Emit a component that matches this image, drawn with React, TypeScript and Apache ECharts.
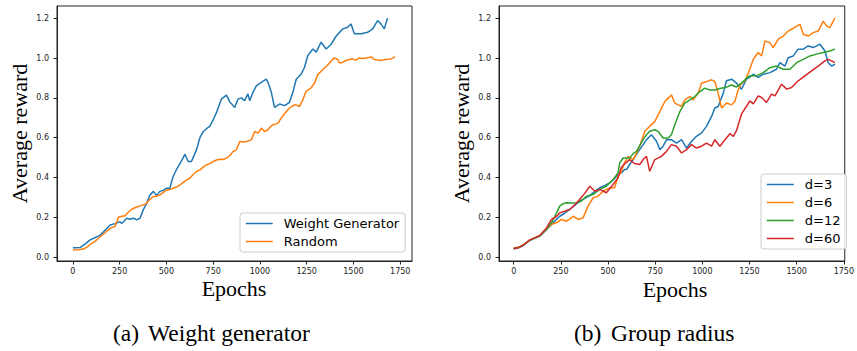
import React, { useEffect, useRef } from "react";
import * as echarts from "echarts";

// ---- tick labels ----
const xTickValues = [0, 250, 500, 750, 1000, 1250, 1500, 1750];
const yTickValues = [0, 0.2, 0.4, 0.6, 0.8, 1.0, 1.2];

// ---- (a) Weight generator ----
const wgEpochs = [0,20,40,65,92,120,146,172,199,226,252,261,288,305,324,341,359,376,394,412,420,430,447,465,483,501,519,528,536,554,572,590,599,616,634,661,679,697,714,732,750,768,794,821,839,865,883,901,918,936,945,963,981,1007,1034,1043,1061,1078,1105,1132,1158,1176,1194,1221,1238,1256,1283,1301,1327,1354,1381,1407,1443,1469,1487,1505,1541,1576,1603,1629,1647,1665,1682];
const wgValues = [0.047,0.047,0.048,0.065,0.086,0.098,0.11,0.135,0.161,0.168,0.178,0.168,0.195,0.19,0.195,0.187,0.195,0.237,0.27,0.312,0.32,0.33,0.31,0.33,0.335,0.346,0.346,0.38,0.405,0.44,0.47,0.5,0.517,0.48,0.48,0.54,0.6,0.63,0.645,0.657,0.69,0.727,0.794,0.814,0.78,0.752,0.794,0.8,0.786,0.82,0.786,0.828,0.861,0.878,0.894,0.878,0.828,0.752,0.769,0.761,0.778,0.828,0.894,0.92,0.953,1.013,1.046,1.03,1.08,1.046,1.07,1.11,1.147,1.155,1.172,1.122,1.122,1.13,1.147,1.189,1.172,1.147,1.2];

const rndEpochs = [0,30,57,75,92,120,146,172,199,226,243,262,279,297,314,337,359,376,394,412,430,447,465,483,501,519,536,554,572,590,608,625,643,661,679,697,714,732,750,768,786,803,821,839,856,874,892,910,928,954,972,990,1007,1025,1043,1056,1069,1082,1096,1114,1127,1141,1158,1172,1185,1200,1212,1229,1247,1260,1274,1292,1309,1327,1345,1360,1372,1385,1398,1416,1425,1440,1452,1465,1478,1496,1514,1532,1550,1567,1580,1594,1611,1630,1647,1660,1674,1688,1700,1723];
const rndValues = [0.035,0.037,0.04,0.05,0.063,0.08,0.102,0.122,0.144,0.155,0.2,0.205,0.207,0.225,0.24,0.25,0.257,0.262,0.27,0.29,0.304,0.305,0.312,0.325,0.337,0.34,0.346,0.352,0.363,0.375,0.388,0.396,0.415,0.43,0.438,0.452,0.463,0.47,0.48,0.488,0.492,0.49,0.497,0.51,0.53,0.539,0.581,0.578,0.581,0.589,0.631,0.623,0.648,0.631,0.64,0.655,0.665,0.668,0.673,0.699,0.715,0.732,0.749,0.758,0.765,0.762,0.757,0.79,0.833,0.842,0.85,0.875,0.917,0.934,0.95,0.963,0.976,0.99,1.001,0.993,0.976,0.978,0.984,0.99,0.993,0.995,0.99,1.001,0.998,1.001,1.003,1.006,0.993,0.99,0.988,0.991,0.993,0.994,0.996,1.006];

// ---- (b) Group radius ----
const d3Epochs = [0,25,50,85,110,138,173,200,244,270,297,323,350,376,403,430,456,483,509,530,553,571,588,598,615,633,650,668,686,704,730,757,775,792,810,836,863,890,916,943,969,996,1022,1049,1066,1084,1111,1128,1155,1181,1208,1234,1252,1270,1296,1323,1358,1393,1411,1438,1455,1482,1508,1535,1561,1588,1623,1650,1667,1685,1703];
const d3Values = [0.04,0.046,0.058,0.083,0.094,0.105,0.137,0.164,0.205,0.22,0.239,0.26,0.281,0.295,0.309,0.33,0.348,0.36,0.373,0.39,0.415,0.423,0.44,0.44,0.465,0.49,0.515,0.54,0.565,0.59,0.615,0.582,0.54,0.557,0.59,0.59,0.573,0.59,0.548,0.582,0.607,0.624,0.657,0.707,0.749,0.757,0.824,0.886,0.894,0.874,0.844,0.894,0.905,0.919,0.903,0.919,0.927,0.944,0.977,0.96,1.002,1.011,1.045,1.045,1.061,1.053,1.07,1.036,0.977,0.96,0.969];

const d6Epochs = [0,25,50,85,110,138,173,200,226,253,280,298,315,342,368,394,421,447,474,509,535,553,571,585,607,633,650,668,695,721,748,775,801,819,836,854,872,890,907,934,951,978,996,1022,1049,1066,1084,1102,1128,1155,1172,1190,1208,1226,1252,1270,1296,1314,1332,1358,1376,1402,1429,1455,1473,1500,1517,1535,1561,1588,1614,1641,1659,1676,1694,1703];
const d6Values = [0.045,0.05,0.06,0.085,0.095,0.107,0.14,0.165,0.172,0.189,0.18,0.192,0.205,0.189,0.197,0.256,0.298,0.306,0.331,0.348,0.348,0.406,0.43,0.47,0.506,0.49,0.52,0.557,0.632,0.657,0.682,0.732,0.782,0.799,0.815,0.774,0.765,0.757,0.79,0.807,0.79,0.824,0.874,0.882,0.891,0.882,0.824,0.749,0.774,0.765,0.782,0.841,0.874,0.886,0.944,0.994,1.028,1.011,1.086,1.078,1.053,1.095,1.111,1.136,1.145,1.161,1.17,1.12,1.111,1.128,1.136,1.186,1.161,1.153,1.186,1.203];

const d12Epochs = [0,25,50,85,110,138,173,200,218,244,262,280,307,333,358,385,420,456,491,527,553,562,580,615,633,651,668,686,704,721,748,765,792,819,836,854,881,907,934,960,987,1013,1040,1066,1093,1128,1154,1181,1208,1234,1252,1287,1323,1358,1393,1429,1464,1500,1535,1570,1606,1641,1676,1703];
const d12Values = [0.043,0.048,0.06,0.085,0.095,0.106,0.14,0.172,0.205,0.256,0.268,0.273,0.272,0.273,0.28,0.306,0.314,0.34,0.356,0.39,0.423,0.473,0.498,0.498,0.52,0.531,0.56,0.59,0.615,0.632,0.64,0.632,0.598,0.598,0.615,0.665,0.732,0.774,0.79,0.807,0.832,0.849,0.84,0.84,0.847,0.854,0.865,0.855,0.874,0.899,0.911,0.911,0.927,0.952,0.96,0.944,0.944,0.977,0.994,1.011,1.02,1.028,1.036,1.045];

const d60Epochs = [0,25,50,85,110,138,173,200,222,244,270,297,323,350,368,385,403,430,456,491,527,553,570,590,615,640,668,686,704,721,748,783,810,836,863,890,916,943,969,996,1022,1049,1066,1093,1120,1146,1164,1181,1208,1234,1252,1270,1296,1314,1340,1367,1385,1420,1447,1473,1508,1544,1579,1614,1650,1667,1685,1703];
const d60Values = [0.043,0.047,0.059,0.086,0.096,0.108,0.145,0.189,0.2,0.222,0.23,0.239,0.262,0.29,0.31,0.331,0.356,0.331,0.34,0.323,0.365,0.398,0.45,0.47,0.49,0.47,0.465,0.49,0.506,0.431,0.49,0.506,0.531,0.565,0.557,0.523,0.54,0.565,0.548,0.557,0.573,0.557,0.59,0.557,0.59,0.62,0.607,0.635,0.72,0.758,0.785,0.77,0.81,0.802,0.777,0.819,0.81,0.869,0.844,0.852,0.886,0.911,0.936,0.96,0.986,0.994,0.986,0.977];

const pairs = (xs: number[], ys: number[]) => xs.map((x, i) => [x, ys[i]]);

const BLUE = "#1f77b4";
const ORANGE = "#ff7f0e";
const GREEN = "#2ca02c";
const RED = "#d62728";

const tickFont = { fontFamily: "DejaVu Sans", fontSize: 8, color: "#222" };
const serif = "Liberation Serif";

function makeX(gridIndex: number, min: number, max: number) {
  return {
    type: "value",
    gridIndex,
    min,
    max,
    axisLine: { show: true, onZero: false, lineStyle: { color: "#222", width: 1 } },
    axisTick: { show: true, inside: false, length: 3.5, lineStyle: { color: "#222" }, customValues: xTickValues },
    axisLabel: { ...tickFont, margin: 6, customValues: xTickValues, formatter: (v: number) => String(v) },
    splitLine: { show: false },
  };
}
function makeY(gridIndex: number) {
  return {
    type: "value",
    gridIndex,
    min: -0.02,
    max: 1.262,
    axisLine: { show: true, onZero: false, lineStyle: { color: "#222", width: 1 } },
    axisTick: { show: true, inside: false, length: 3.5, lineStyle: { color: "#222" }, customValues: yTickValues },
    axisLabel: { ...tickFont, margin: 8, customValues: yTickValues, formatter: (v: number) => v.toFixed(1) },
    splitLine: { show: false },
  };
}
function line(name: string, color: string, data: number[][], idx: number) {
  return {
    type: "line",
    name,
    xAxisIndex: idx,
    yAxisIndex: idx,
    data,
    symbol: "none",
    showSymbol: false,
    lineStyle: { color, width: 1.5 },
    itemStyle: { color },
    z: 2,
  };
}
const legendBase = {
  orient: "vertical",
  itemWidth: 27,
  itemHeight: 14,
  itemGap: 5,
  padding: [4, 6, 4, 5],
  backgroundColor: "rgba(255,255,255,0.85)",
  borderColor: "#cccccc",
  borderWidth: 1,
  borderRadius: 3,
  itemStyle: { opacity: 0, borderWidth: 0 },
  lineStyle: { width: 1.5 },
  textStyle: { fontFamily: "DejaVu Sans", fontSize: 13, color: "#000", padding: [0, 0, 0, 6] },
};

export default function App() {
  const ref = useRef<HTMLDivElement>(null);
  useEffect(() => {
    if (!ref.current) return;
    const chart = echarts.init(ref.current, undefined, { renderer: "svg" });
    chart.setOption({
      animation: false,
      backgroundColor: "#ffffff",
      grid: [
        { left: 57, top: 6, width: 355, height: 255, show: true, borderColor: "#222", borderWidth: 1, backgroundColor: "transparent" },
        { left: 499, top: 6, width: 346, height: 255, show: true, borderColor: "#222", borderWidth: 1, backgroundColor: "transparent" },
      ],
      xAxis: [makeX(0, -85, 1813), makeX(1, -78, 1755)],
      yAxis: [makeY(0), makeY(1)],
      legend: [
        { ...legendBase, left: 240, top: 213, data: ["Weight Generator", "Random"] },
        { ...legendBase, left: 761, top: 174, data: ["d=3", "d=6", "d=12", "d=60"] },
      ],
      series: [
        line("Weight Generator", BLUE, pairs(wgEpochs, wgValues), 0),
        line("Random", ORANGE, pairs(rndEpochs, rndValues), 0),
        line("d=3", BLUE, pairs(d3Epochs, d3Values), 1),
        line("d=6", ORANGE, pairs(d6Epochs, d6Values), 1),
        line("d=12", GREEN, pairs(d12Epochs, d12Values), 1),
        line("d=60", RED, pairs(d60Epochs, d60Values), 1),
      ],
      graphic: [
        { type: "text", x: 19, y: 133.5, rotation: Math.PI / 2, style: { text: "Average reward", fontFamily: serif, fontSize: 22, fill: "#000", align: "center", verticalAlign: "middle" } },
        { type: "text", x: 461, y: 133.5, rotation: Math.PI / 2, style: { text: "Average reward", fontFamily: serif, fontSize: 22, fill: "#000", align: "center", verticalAlign: "middle" } },
        { type: "text", x: 234, y: 288, style: { text: "Epochs", fontFamily: serif, fontSize: 22, fill: "#000", align: "center", verticalAlign: "middle" } },
        { type: "text", x: 675, y: 289, style: { text: "Epochs", fontFamily: serif, fontSize: 22, fill: "#000", align: "center", verticalAlign: "middle" } },
        { type: "text", x: 113, y: 333, style: { text: "(a)", fontFamily: serif, fontSize: 23.5, fill: "#000", align: "left", verticalAlign: "middle" } },
        { type: "text", x: 148, y: 333, style: { text: "Weight generator", fontFamily: serif, fontSize: 23.5, fill: "#000", align: "left", verticalAlign: "middle" } },
        { type: "text", x: 574, y: 333, style: { text: "(b)", fontFamily: serif, fontSize: 23.5, fill: "#000", align: "left", verticalAlign: "middle" } },
        { type: "text", x: 611, y: 333, style: { text: "Group radius", fontFamily: serif, fontSize: 23.5, fill: "#000", align: "left", verticalAlign: "middle" } },
      ],
    });
    return () => chart.dispose();
  }, []);
  return <div ref={ref} style={{ position: "fixed", left: 0, top: 0, width: 857, height: 351 }} />;
}
